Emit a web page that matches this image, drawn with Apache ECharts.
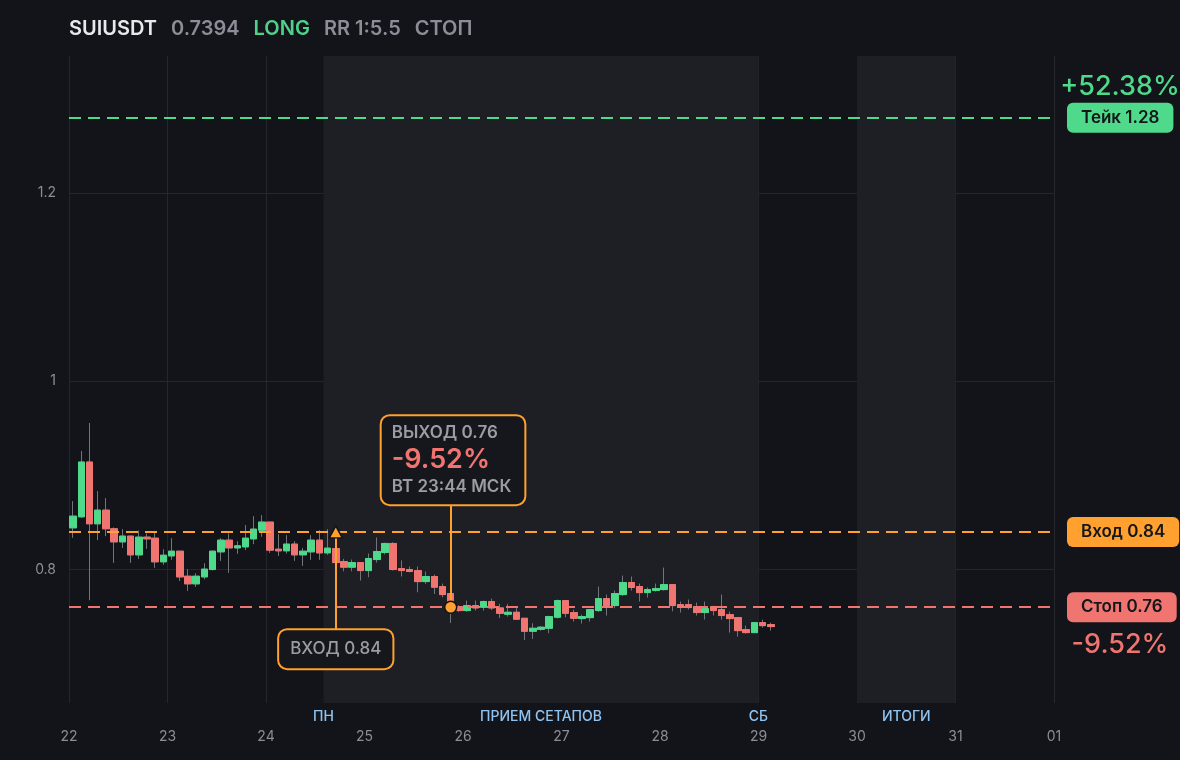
<!DOCTYPE html>
<html><head><meta charset="utf-8">
<script src="https://cdn.jsdelivr.net/npm/echarts@6/dist/echarts.min.js"></script>
<style>html,body{margin:0;padding:0;background:#131419;}#c{width:1180px;height:760px;}</style>
</head><body><div id="c"></div><script>
// ---- header texts ----
const tickerName = 'SUIUSDT';
const lastPrice = '0.7394';
const sideText = 'LONG';
const rrText = 'RR 1:5.5';
const statusText = 'СТОП';

// ---- axes ----
const dayLabels = ['22','23','24','25','26','27','28','29','30','31','01'];
const candlesPerDay = 12; // 2h candles
const yTicks = [0.8, 1, 1.2];

// ---- 2h candles (open, close, high, low) ----
const opens = [0.8443,0.8560,0.9142,0.8486,0.8631,0.8433,0.8294,0.8355,0.8156,0.8344,
  0.8333,0.8082,0.8145,0.8195,0.7929,0.7848,0.7922,0.8000,0.8188,0.8312,
  0.8230,0.8241,0.8326,0.8418,0.8504,0.8216,0.8199,0.8270,0.8156,0.8188,
  0.8312,0.8177,0.8223,0.8085,0.8025,0.8074,0.7989,0.8106,0.8181,0.8277,
  0.8011,0.8000,0.7989,0.7872,0.7926,0.7819,0.7745,0.7606,0.7564,0.7617,
  0.7599,0.7660,0.7592,0.7525,0.7546,0.7482,0.7344,0.7365,0.7376,0.7493,
  0.7670,0.7543,0.7479,0.7489,0.7564,0.7691,0.7617,0.7734,0.7862,0.7819,
  0.7755,0.7777,0.7787,0.7840,0.7628,0.7628,0.7606,0.7543,0.7606,0.7574,
  0.7521,0.7489,0.7362,0.7330,0.7436,0.7415];
const closes = [0.8567,0.9142,0.8486,0.8631,0.8433,0.8294,0.8355,0.8156,0.8344,0.8326,
  0.8082,0.8152,0.8195,0.7922,0.7848,0.7929,0.8004,0.8195,0.8312,0.8230,
  0.8252,0.8333,0.8429,0.8504,0.8206,0.8199,0.8270,0.8156,0.8195,0.8312,
  0.8177,0.8227,0.8074,0.8025,0.8074,0.7989,0.8117,0.8191,0.8277,0.8000,
  0.7989,0.7979,0.7872,0.7926,0.7812,0.7734,0.7652,0.7564,0.7617,0.7592,
  0.7660,0.7592,0.7535,0.7546,0.7472,0.7344,0.7376,0.7387,0.7500,0.7670,
  0.7535,0.7482,0.7500,0.7574,0.7691,0.7617,0.7745,0.7862,0.7809,0.7755,
  0.7787,0.7798,0.7840,0.7617,0.7600,0.7596,0.7543,0.7585,0.7564,0.7511,
  0.7479,0.7351,0.7330,0.7436,0.7404,0.7394];
const highs = [0.8727,0.9259,0.9557,0.8833,0.8759,0.8447,0.8429,0.8355,0.8415,0.8383,
  0.8390,0.8216,0.8333,0.8195,0.8004,0.7961,0.8067,0.8200,0.8333,0.8383,
  0.8301,0.8472,0.8567,0.8578,0.8504,0.8376,0.8365,0.8301,0.8230,0.8365,
  0.8418,0.8429,0.8260,0.8113,0.8106,0.8074,0.8170,0.8340,0.8285,0.8290,
  0.8096,0.8032,0.8032,0.7979,0.7947,0.7851,0.7745,0.7620,0.7670,0.7670,
  0.7670,0.7691,0.7635,0.7635,0.7589,0.7482,0.7429,0.7400,0.7510,0.7680,
  0.7670,0.7574,0.7521,0.7574,0.7819,0.7734,0.7777,0.7936,0.7926,0.7851,
  0.7809,0.7851,0.8021,0.7840,0.7660,0.7681,0.7649,0.7660,0.7617,0.7734,
  0.7553,0.7489,0.7404,0.7436,0.7468,0.7436];
const lows = [0.8337,0.8550,0.7674,0.8312,0.8355,0.8071,0.8230,0.8071,0.8113,0.8220,
  0.8018,0.8050,0.8103,0.7879,0.7773,0.7816,0.7897,0.7990,0.8092,0.7965,
  0.8167,0.8206,0.8270,0.8348,0.8177,0.8145,0.8170,0.8092,0.8039,0.8103,
  0.8103,0.8156,0.8050,0.7982,0.7982,0.7883,0.7918,0.8074,0.8160,0.7990,
  0.7926,0.7970,0.7759,0.7848,0.7741,0.7706,0.7432,0.7550,0.7550,0.7564,
  0.7564,0.7570,0.7486,0.7500,0.7465,0.7252,0.7262,0.7350,0.7323,0.7480,
  0.7493,0.7447,0.7426,0.7447,0.7550,0.7511,0.7589,0.7720,0.7777,0.7660,
  0.7702,0.7766,0.7777,0.7557,0.7543,0.7574,0.7511,0.7468,0.7511,0.7468,
  0.7330,0.7287,0.7320,0.7330,0.7383,0.7351];

// ---- trade levels ----
const levelNames = ['Тейк', 'Вход', 'Стоп'];
const levelValues = [1.28, 0.84, 0.76];
const levelPercents = ['+52.38%', '', '-9.52%'];

// ---- sessions (in candle slots from day 22 00:00) ----
const bandStarts = [31, 96];
const bandEnds = [84, 108];
const bandNames = ['ПРИЕМ СЕТАПОВ', 'ИТОГИ'];
const edgeSlots = [31, 84];
const edgeNames = ['ПН', 'СБ'];

// ---- entry / exit ----
const entryIndex = 32, entryPrice = 0.84, entryText = 'ВХОД 0.84';
const exitIndex = 46, exitPrice = 0.76, exitText = 'ВЫХОД 0.76', exitPct = '-9.52%', exitTime = 'ВТ 23:44 МСК';

// ---- colours / layout ----
const GREEN = '#4ed98b', RED = '#f07570', ORANGE = '#ffa02f', BG = '#131419';
const levelColors = [GREEN, ORANGE, RED];
const Y_MIN = 0.6582, Y_MAX = 1.3456;
const entryBoxY = 0.7154, entryLinkY = 0.7351;
const exitBoxY = 0.9162, exitLinkY = 0.8694;
const FONT = 'Inter, "Noto Sans", sans-serif';
const X_MAX = (dayLabels.length - 1) * candlesPerDay;

const slot = i => i + 0.5;
const wickData = opens.map((o, i) => [slot(i), o, closes[i], lows[i], highs[i]]);
const bodyData = opens.map((o, i) => [slot(i), o, closes[i], Math.min(o, closes[i]), Math.max(o, closes[i])]);

const chart = echarts.init(document.getElementById('c'), null, {renderer: 'canvas'});
chart.setOption({
  backgroundColor: BG,
  animation: false,
  textStyle: {fontFamily: FONT},
  title: {
    left: 69, top: 19, padding: 0,
    text: `{w|${tickerName}}{g|${lastPrice}}{l|${sideText}}{g|${rrText}}{s|${statusText}}`,
    textStyle: {
      rich: {
        w: {color: '#e8e9ec', fontSize: 20, fontWeight: 600, fontFamily: FONT, padding: [0, 14, 0, 0]},
        g: {color: '#8b8e97', fontSize: 20, fontWeight: 600, fontFamily: FONT, padding: [0, 14, 0, 0]},
        l: {color: '#4fd08b', fontSize: 20, fontWeight: 600, fontFamily: FONT, padding: [0, 14, 0, 0]},
        s: {color: '#8b8e97', fontSize: 20, fontWeight: 600, fontFamily: FONT}
      }
    }
  },
  grid: {left: 69, right: 126, top: 56, bottom: 57, containLabel: false},
  xAxis: {
    type: 'value', min: 0, max: X_MAX, interval: candlesPerDay,
    axisLine: {show: false}, axisTick: {show: false},
    axisLabel: {color: '#8b8e97', fontSize: 14, fontFamily: FONT, margin: 27,
      formatter: v => dayLabels[Math.round(v / candlesPerDay)]},
    splitLine: {show: true, lineStyle: {color: '#26272d', width: 1}}
  },
  yAxis: {
    type: 'value', min: Y_MIN, max: Y_MAX, position: 'left',
    axisLine: {show: false},
    axisTick: {show: false, customValues: yTicks},
    axisLabel: {color: '#8b8e97', fontSize: 14, fontFamily: FONT, margin: 13, customValues: yTicks,
      formatter: v => String(v)},
    splitLine: {show: true, lineStyle: {color: '#26272d', width: 1}}
  },
  series: [
    {
      type: 'line', data: [], z: 0, silent: true,
      markArea: {
        silent: true,
        itemStyle: {color: '#1e1f24'},
        label: {show: true, position: 'bottom', distance: 7, color: '#8fc4f2', fontSize: 14, fontWeight: 500, fontFamily: FONT},
        data: bandStarts.map((s, i) => [{xAxis: s, name: bandNames[i]}, {xAxis: bandEnds[i]}])
      },
      markLine: {
        silent: true, symbol: ['none', 'none'],
        lineStyle: {color: 'rgba(0,0,0,0)', width: 0},
        label: {show: true, position: 'start', distance: 7, formatter: '{b}', color: '#8fc4f2', fontSize: 14, fontWeight: 500, fontFamily: FONT},
        data: edgeSlots.map((x, i) => ({xAxis: x, name: edgeNames[i]}))
      }
    },
    {
      type: 'candlestick', name: 'wick', data: wickData, z: 2, barWidth: 7,
      itemStyle: {color: 'rgba(0,0,0,0)', color0: 'rgba(0,0,0,0)', borderColor: '#72747b', borderColor0: '#72747b', borderWidth: 1}
    },
    {
      type: 'candlestick', name: 'body', data: bodyData, z: 3, barWidth: 7,
      itemStyle: {color: GREEN, color0: RED, borderColor: GREEN, borderColor0: RED, borderWidth: 1}
    },
    {
      type: 'line', data: [], z: 5, silent: true,
      markLine: {
        silent: true, symbol: ['none', 'none'],
        data: levelValues.map((v, i) => ({
          yAxis: v,
          lineStyle: {color: levelColors[i], type: [12, 7], width: 2},
          label: {show: true, position: 'end', distance: 13, formatter: levelNames[i] + ' ' + v,
            backgroundColor: levelColors[i], color: '#15161a', fontSize: 17, fontWeight: 600, fontFamily: FONT,
            padding: [6, 14, 6, 14], borderRadius: 6, lineHeight: 18}
        })).concat([
          [{coord: [slot(entryIndex), entryPrice], lineStyle: {color: ORANGE, type: 'solid', width: 2}, label: {show: false}},
           {coord: [slot(entryIndex), entryLinkY]}],
          [{coord: [slot(exitIndex), exitPrice], lineStyle: {color: ORANGE, type: 'solid', width: 2}, label: {show: false}},
           {coord: [slot(exitIndex), exitLinkY]}]
        ])
      }
    },
    {
      type: 'line', data: [], z: 6, silent: true,
      markPoint: {
        silent: true,
        data: [
          {coord: [slot(entryIndex), entryPrice], symbol: 'triangle', symbolSize: [13, 12],
            itemStyle: {color: ORANGE, borderColor: BG, borderWidth: 1.5}, label: {show: false}},
          {coord: [slot(exitIndex), exitPrice], symbol: 'circle', symbolSize: 12,
            itemStyle: {color: ORANGE, borderColor: BG, borderWidth: 1.5}, label: {show: false}},
          {coord: [slot(entryIndex), entryBoxY], symbol: 'rect', symbolSize: 1, itemStyle: {color: 'rgba(0,0,0,0)'},
            label: {show: true, position: 'inside', formatter: entryText, color: '#9b9da4', fontSize: 17, fontWeight: 500,
              fontFamily: FONT, backgroundColor: '#16171c', borderColor: ORANGE, borderWidth: 2, borderRadius: 8,
              padding: [9, 11, 9, 11], lineHeight: 20}},
          {coord: [slot(exitIndex), exitBoxY], symbol: 'rect', symbolSize: 1, itemStyle: {color: 'rgba(0,0,0,0)'},
            label: {show: true, position: 'inside', align: 'left', offset: [-69, 0],
              formatter: `{a|${exitText}}\n{b|${exitPct}}\n{c|${exitTime}}`,
              backgroundColor: '#16171c', borderColor: ORANGE, borderWidth: 2, borderRadius: 8,
              padding: [6, 13, 6, 10],
              rich: {
                a: {color: '#9b9da4', fontSize: 17, fontWeight: 600, fontFamily: FONT, lineHeight: 22},
                b: {color: RED, fontSize: 27, fontWeight: 600, fontFamily: FONT, lineHeight: 32},
                c: {color: '#9b9da4', fontSize: 17, fontWeight: 600, fontFamily: FONT, lineHeight: 22}
              }}},
          {coord: [X_MAX, levelValues[0]], symbol: 'rect', symbolSize: 1,
            itemStyle: {color: 'rgba(0,0,0,0)'},
            label: {show: true, position: 'inside', offset: [66, -31], formatter: levelPercents[0],
              color: GREEN, fontSize: 27, fontWeight: 500, fontFamily: FONT}},
          {coord: [X_MAX, levelValues[2]], symbol: 'rect', symbolSize: 1,
            itemStyle: {color: 'rgba(0,0,0,0)'},
            label: {show: true, position: 'inside', offset: [66, 38], formatter: levelPercents[2],
              color: RED, fontSize: 27, fontWeight: 500, fontFamily: FONT}}
        ]
      }
    }
  ]
});
</script></body></html>
